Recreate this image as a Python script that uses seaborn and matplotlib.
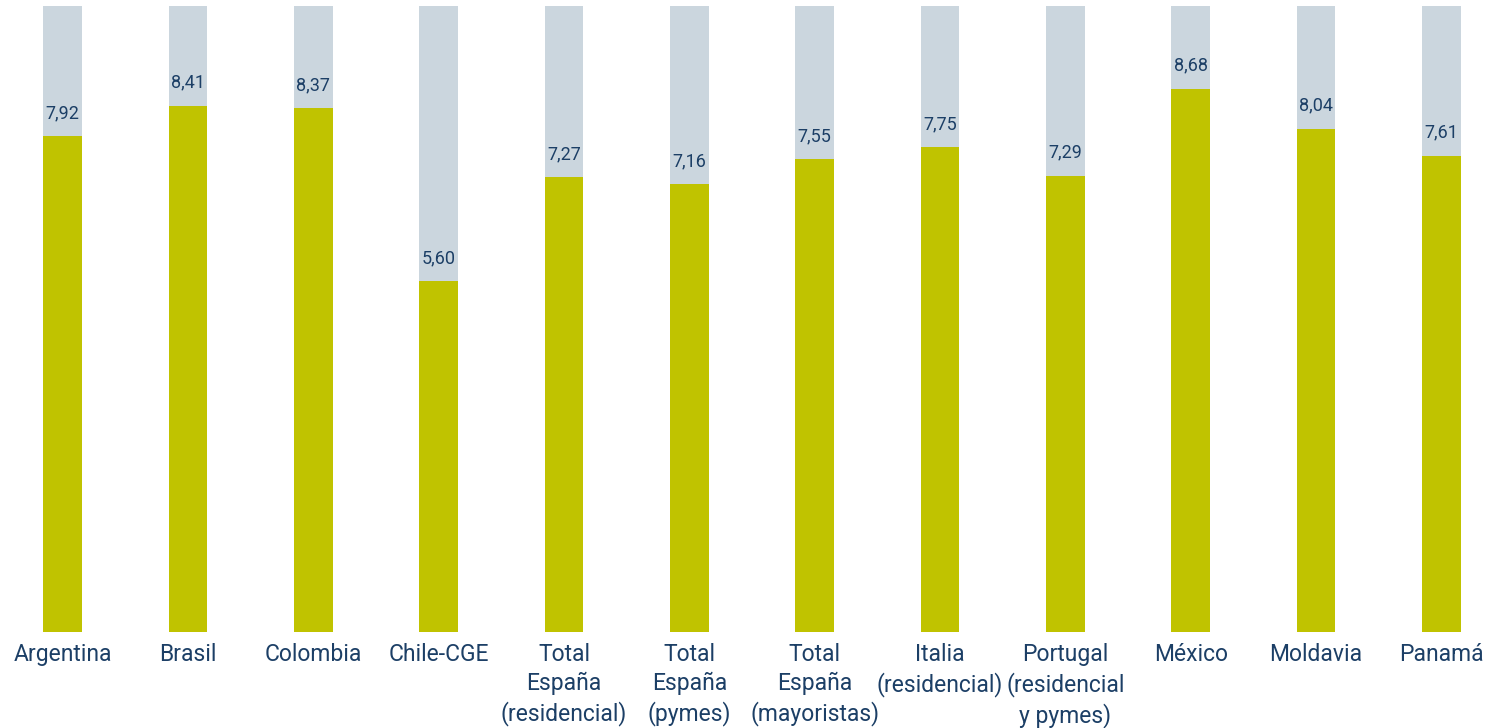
import matplotlib
matplotlib.use("Agg")
import matplotlib.pyplot as plt
import seaborn as sns
import pandas as pd

# data
categories = ["Argentina", "Brasil", "Colombia", "Chile-CGE",
              "Total\nEspaña\n(residencial)", "Total\nEspaña\n(pymes)",
              "Total\nEspaña\n(mayoristas)", "Italia\n(residencial)",
              "Portugal\n(residencial\ny pymes)", "México", "Moldavia", "Panamá"]
scores = [7.92, 8.41, 8.37, 5.60, 7.27, 7.16, 7.55, 7.75, 7.29, 8.68, 8.04, 7.61]
scale_max = [10] * len(categories)

green = "#C0C300"
grey = "#CBD6DE"
navy = "#1C3F66"

sns.set_theme(style="white")
plt.rcParams["font.family"] = ["Roboto", "DejaVu Sans"]

df = pd.DataFrame({"cat": categories, "score": scores, "max": scale_max})

fig = plt.figure(figsize=(15.04, 7.28), dpi=100)
ax = fig.add_axes([0, 96 / 728, 1, 626 / 728])

sns.barplot(data=df, x="cat", y="max", color=grey, width=0.31,
            saturation=1, linewidth=0, ax=ax)
sns.barplot(data=df, x="cat", y="score", color=green, width=0.31,
            saturation=1, linewidth=0, ax=ax)

# value labels just above the green bars
for i, v in enumerate(scores):
    ax.annotate(f"{v:.2f}".replace(".", ","), (i, v), xytext=(0, 10),
                textcoords="offset points", ha="center", va="bottom",
                fontsize=13, color=navy)

ax.set_ylim(0, 10)
ax.set_xlim(-0.5, len(categories) - 0.5)
ax.set_xlabel("")
ax.set_ylabel("")
ax.set_yticks([])
ax.tick_params(axis="x", length=0, pad=8, labelsize=16.5, labelcolor=navy)
for lbl in ax.get_xticklabels():
    lbl.set_linespacing(1.3)
sns.despine(ax=ax, left=True, bottom=True)

fig.savefig("out.png", dpi=100)
